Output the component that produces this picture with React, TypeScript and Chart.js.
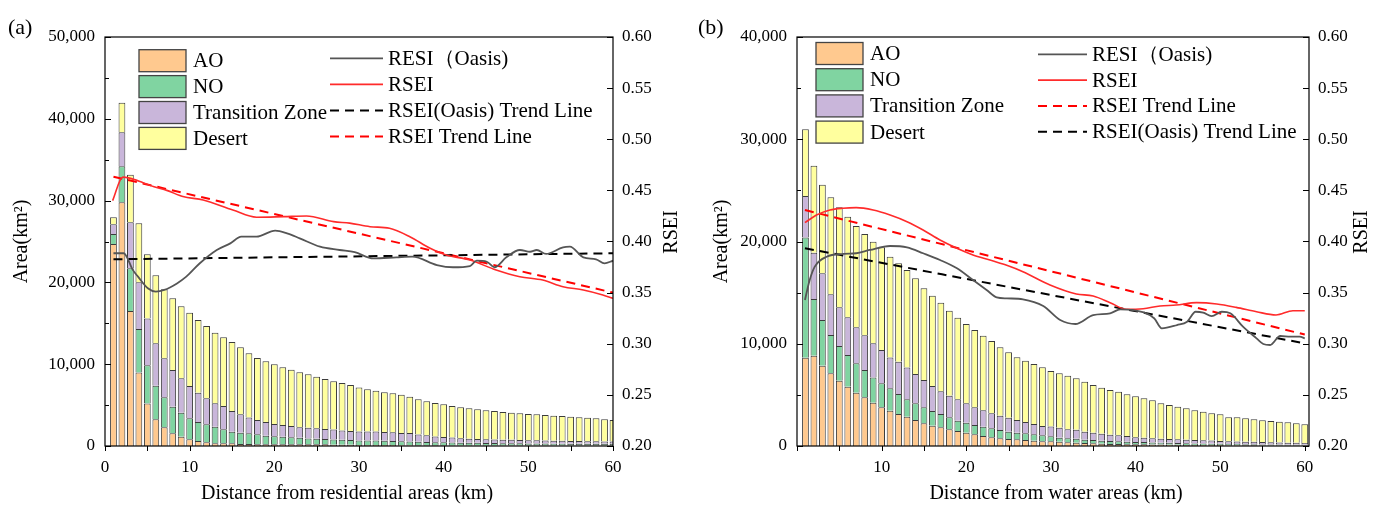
import React, { useEffect, useRef } from "react";
import { Chart, registerables } from "chart.js";

Chart.register(...registerables);

const SERIF = '"Liberation Serif", "Times New Roman", Times, serif';

// distance classes (km) – one bar per km
const KM = Array.from({ length: 60 }, (_, i) => i + 1);

// ---------- Panel (a): distance from residential areas ----------
const A_AO = [24700, 29800, 16500, 9000, 5200, 3260, 2290, 1550, 1140, 820, 610, 450, 330, 330, 330, 250, 250, 210, 200, 200, 200, 200, 200, 200, 200, 200, 150, 150, 150, 120, 120, 120, 110, 110, 100, 100, 80, 80, 80, 80, 70, 70, 70, 70, 60, 60, 60, 60, 60, 60, 60, 60, 50, 50, 50, 50, 50, 50, 50, 50];
const A_NO = [1220, 4400, 5220, 5300, 4680, 4110, 3670, 3250, 2930, 2570, 2320, 2200, 2030, 1710, 1420, 1380, 1310, 1220, 1050, 980, 930, 860, 810, 730, 690, 650, 640, 600, 570, 560, 550, 540, 530, 500, 480, 460, 440, 400, 390, 370, 350, 340, 330, 320, 310, 300, 290, 280, 270, 260, 250, 250, 240, 240, 230, 230, 220, 220, 210, 210];
const A_TZ = [1190, 4160, 5620, 5710, 5710, 5180, 4770, 4490, 4210, 3950, 3580, 3180, 2860, 2850, 2530, 2250, 1910, 1750, 1670, 1500, 1430, 1380, 1270, 1300, 1270, 1220, 1220, 1140, 1100, 1100, 1100, 1100, 1060, 1060, 1020, 1020, 890, 820, 700, 650, 610, 530, 490, 470, 450, 440, 420, 410, 400, 390, 380, 370, 360, 350, 340, 330, 320, 310, 300, 290];
const A_DS = [850, 3610, 5830, 7220, 7840, 8320, 8430, 8770, 8800, 8960, 8890, 8840, 8630, 8400, 8420, 8180, 7860, 7580, 7430, 7310, 7060, 6890, 6730, 6530, 6310, 6120, 5900, 5810, 5640, 5370, 5160, 5000, 4860, 4770, 4670, 4450, 4300, 4160, 4090, 4000, 3860, 3790, 3720, 3630, 3540, 3480, 3390, 3320, 3270, 3200, 3180, 3110, 3050, 3030, 2960, 2900, 2870, 2810, 2700, 2630];

const A_RSEI_X = [0.9, 2.1, 2.9, 4.5, 5.8, 7.3, 9.2, 11.6, 15.1, 17.9, 21.1, 23.8, 27.0, 28.9, 31.3, 33.6, 36.0, 38.4, 40.3, 43.1, 46.2, 49.0, 51.7, 54.1, 56.5, 58.8, 60];
const A_RSEI_Y = [0.440, 0.463, 0.462, 0.4575, 0.4536, 0.450, 0.444, 0.4406, 0.4308, 0.4237, 0.4243, 0.4249, 0.4194, 0.418, 0.4145, 0.4129, 0.4047, 0.3934, 0.3868, 0.3819, 0.3721, 0.3656, 0.3623, 0.3558, 0.3526, 0.3477, 0.3444];
const A_OASIS_X = [1.0, 2.2, 3.3, 3.9, 5.1, 6.0, 7.0, 8.5, 9.6, 11.2, 13.2, 14.8, 16.1, 17.9, 20.1, 21.5, 23.0, 25.4, 27.7, 29.5, 31.7, 34.4, 36.3, 39.2, 41.1, 43.1, 43.9, 45.1, 46.0, 47.4, 49.0, 50.2, 51.0, 52.1, 54.1, 54.9, 56.5, 58.0, 59.0, 60];
const A_OASIS_Y = [0.3885, 0.3885, 0.372, 0.3656, 0.354, 0.351, 0.3526, 0.359, 0.3656, 0.3787, 0.3917, 0.3982, 0.4047, 0.4047, 0.4106, 0.408, 0.4031, 0.3949, 0.3917, 0.3895, 0.3835, 0.3845, 0.3852, 0.377, 0.3748, 0.376, 0.3812, 0.3802, 0.3748, 0.3845, 0.3917, 0.39, 0.3917, 0.3878, 0.3943, 0.3949, 0.3845, 0.3826, 0.3787, 0.3812];
const A_OASIS_TREND_X = [1, 60];
const A_OASIS_TREND_Y = [0.3826, 0.3885];
const A_RSEI_TREND_X = [1, 60];
const A_RSEI_TREND_Y = [0.4634, 0.350];

// ---------- Panel (b): distance from water areas ----------
const B_AO = [8640, 8830, 7850, 7110, 6390, 5800, 5210, 4760, 4230, 3780, 3450, 3130, 2870, 2540, 2220, 1990, 1830, 1630, 1470, 1300, 1140, 980, 850, 750, 680, 650, 590, 520, 460, 460, 420, 360, 330, 290, 260, 220, 200, 200, 180, 170, 160, 150, 140, 130, 120, 110, 100, 100, 90, 90, 80, 80, 70, 70, 60, 60, 60, 50, 50, 50];
const B_NO = [11740, 5550, 4470, 3750, 3390, 3100, 2880, 2670, 2480, 2350, 2200, 1960, 1700, 1630, 1560, 1440, 1300, 1170, 1010, 980, 910, 910, 880, 810, 710, 650, 650, 630, 590, 500, 390, 390, 370, 330, 330, 300, 290, 260, 240, 230, 220, 200, 190, 180, 170, 160, 150, 140, 130, 120, 110, 110, 100, 100, 90, 90, 80, 80, 80, 70];
const B_TZ = [4080, 4530, 4570, 3980, 3790, 3690, 3520, 3390, 3330, 3260, 3000, 3150, 3100, 2870, 2670, 2450, 2220, 2110, 2090, 1900, 1730, 1600, 1470, 1400, 1370, 1240, 1110, 1010, 910, 950, 980, 880, 880, 780, 710, 680, 620, 590, 560, 460, 420, 420, 390, 380, 370, 350, 330, 320, 310, 280, 270, 260, 250, 240, 230, 220, 210, 200, 190, 180];
const B_DS = [6510, 8500, 8670, 9480, 9770, 9840, 9910, 9910, 9940, 10040, 9860, 9630, 9540, 9360, 8970, 8820, 8670, 8320, 7980, 7750, 7560, 7300, 7070, 6690, 6400, 6130, 5990, 5860, 5740, 5430, 5320, 5250, 5040, 4890, 4670, 4500, 4370, 4260, 4070, 4000, 3860, 3700, 3460, 3320, 3180, 3070, 2910, 2790, 2670, 2610, 2350, 2360, 2290, 2200, 2130, 2080, 2030, 1990, 1900, 1820];

const B_RSEI_X = [0.94, 2.3, 3.9, 5.4, 7.0, 9.0, 11.0, 13.0, 14.9, 16.9, 18.9, 20.8, 22.8, 24.7, 26.7, 29.9, 33.0, 35.0, 37.0, 38.9, 40.9, 42.9, 44.8, 47.2, 49.6, 51.9, 54.3, 56.6, 58.6, 60];
const B_RSEI_Y = [0.4184, 0.4259, 0.4308, 0.4325, 0.4331, 0.4308, 0.4259, 0.4194, 0.4113, 0.4015, 0.3934, 0.3868, 0.3819, 0.377, 0.3705, 0.3575, 0.3487, 0.3467, 0.3402, 0.3337, 0.3343, 0.3369, 0.3379, 0.3402, 0.3389, 0.3356, 0.3313, 0.3281, 0.3323, 0.3323];
const B_OASIS_X = [0.94, 1.5, 2.1, 3.5, 5.5, 7.0, 8.6, 11.0, 13.0, 14.9, 16.9, 18.9, 20.8, 22.4, 23.6, 24.8, 26.7, 29.1, 31.1, 32.9, 35.0, 37.0, 38.2, 39.7, 42.2, 43.1, 44.9, 46.1, 47.1, 48.0, 49.0, 50.2, 51.2, 52.7, 54.3, 55.1, 55.9, 57.1, 58.3, 59.4, 60];
const B_OASIS_Y = [0.3428, 0.3623, 0.3754, 0.3851, 0.3878, 0.3885, 0.3917, 0.3956, 0.3943, 0.3885, 0.3819, 0.3738, 0.3623, 0.3526, 0.3454, 0.3444, 0.3435, 0.3369, 0.3232, 0.3193, 0.3281, 0.3298, 0.3337, 0.333, 0.3249, 0.3151, 0.3183, 0.3216, 0.3313, 0.3304, 0.3271, 0.3313, 0.3298, 0.3167, 0.3053, 0.2998, 0.2988, 0.3076, 0.3069, 0.3069, 0.3053];
const B_RSEI_TREND_X = [0.94, 60];
const B_RSEI_TREND_Y = [0.4308, 0.309];
const B_OASIS_TREND_X = [0.94, 60];
const B_OASIS_TREND_Y = [0.3934, 0.3004];

// ---------- styles ----------
const C_AO = "#FFC98F";
const C_NO = "#80D4A1";
const C_TZ = "#C9B6DA";
const C_DS = "#FFFF9E";
const BAR_EDGE = "#3c3c3c";
const C_OASIS = "#555555";
const C_RSEI = "#FF2B2B";
const C_RSEI_TREND = "#FF0000";
const C_OASIS_TREND = "#000000";
const DASH = [9, 6];

type LineSpec = { label: string; xs: number[]; ys: number[]; color: string; dash: number[]; width: number };

type Panel = {
  tag: string;
  tagX: number;
  xTitle: string;
  xTitleX: number;
  areaMax: number;
  xMax: number;
  showZeroX: boolean;
  canvasW: number;
  pageLeft: number;
  leftW: number;
  rightW: number;
  leftTitleX: number;
  rightTitleX: number;
  ao: number[];
  no: number[];
  tz: number[];
  ds: number[];
  lines: LineSpec[];
  boxX: number; boxY0: number; boxDy: number; boxTextX: number;
  lineX0: number; lineX1: number; lineY0: number; lineDy: number; lineTextX: number;
};

const PANEL_A: Panel = {
  tag: "(a)", tagX: 8,
  xTitle: "Distance from residential areas (km)", xTitleX: 347,
  areaMax: 50000, xMax: 60, showZeroX: true,
  canvasW: 693, pageLeft: 0, leftW: 105, rightW: 80,
  leftTitleX: 22, rightTitleX: 672,
  ao: A_AO, no: A_NO, tz: A_TZ, ds: A_DS,
  lines: [
    { label: "RESI（Oasis)", xs: A_OASIS_X, ys: A_OASIS_Y, color: C_OASIS, dash: [], width: 1.8 },
    { label: "RSEI", xs: A_RSEI_X, ys: A_RSEI_Y, color: C_RSEI, dash: [], width: 1.6 },
    { label: "RSEI(Oasis) Trend Line", xs: A_OASIS_TREND_X, ys: A_OASIS_TREND_Y, color: C_OASIS_TREND, dash: DASH, width: 2 },
    { label: "RSEI Trend Line", xs: A_RSEI_TREND_X, ys: A_RSEI_TREND_Y, color: C_RSEI_TREND, dash: DASH, width: 2 },
  ],
  boxX: 34, boxY0: 23.7, boxDy: 25.9, boxTextX: 88,
  lineX0: 225, lineX1: 278, lineY0: 21.3, lineDy: 26.1, lineTextX: 283,
};

const PANEL_B: Panel = {
  tag: "(b)", tagX: 5,
  xTitle: "Distance from water areas (km)", xTitleX: 363,
  areaMax: 40000, xMax: 60.5, showZeroX: false,
  canvasW: 694, pageLeft: 693, leftW: 104, rightW: 78,
  leftTitleX: 29, rightTitleX: 669,
  ao: B_AO, no: B_NO, tz: B_TZ, ds: B_DS,
  lines: [
    { label: "RESI（Oasis)", xs: B_OASIS_X, ys: B_OASIS_Y, color: C_OASIS, dash: [], width: 1.8 },
    { label: "RSEI", xs: B_RSEI_X, ys: B_RSEI_Y, color: C_RSEI, dash: [], width: 1.6 },
    { label: "RSEI Trend Line", xs: B_RSEI_TREND_X, ys: B_RSEI_TREND_Y, color: C_RSEI_TREND, dash: DASH, width: 2 },
    { label: "RSEI(Oasis) Trend Line", xs: B_OASIS_TREND_X, ys: B_OASIS_TREND_Y, color: C_OASIS_TREND, dash: DASH, width: 2 },
  ],
  boxX: 19, boxY0: 16.5, boxDy: 26.2, boxTextX: 73,
  lineX0: 241, lineX1: 290, lineY0: 17.3, lineDy: 25.8, lineTextX: 295,
};

const H = 506;

function overlayPlugin(p: Panel) {
  return {
    id: "overlay",
    afterDraw(chart: any) {
      const { ctx, chartArea: ca, scales } = chart;
      const sx = scales.x, sy = scales.y, sy2 = scales.y2;
      ctx.save();
      ctx.setLineDash([]);
      ctx.strokeStyle = "#000";
      ctx.lineWidth = 1.2;
      ctx.strokeRect(ca.left, ca.top, ca.right - ca.left, ca.bottom - ca.top);

      ctx.beginPath();
      ctx.lineWidth = 1;
      // x ticks (outward), every 5 km
      for (let v = 0; v <= 60; v += 5) {
        const px = Math.round(sx.getPixelForValue(v)) + 0.5;
        ctx.moveTo(px, ca.bottom);
        ctx.lineTo(px, ca.bottom + 5);
      }
      // left ticks inward, major + minor
      const yt = sy.ticks.map((t: any) => t.value);
      yt.forEach((v: number, i: number) => {
        const py = Math.round(sy.getPixelForValue(v)) + 0.5;
        ctx.moveTo(ca.left, py);
        ctx.lineTo(ca.left + 6, py);
        if (i < yt.length - 1) {
          const pm = Math.round(sy.getPixelForValue((v + yt[i + 1]) / 2)) + 0.5;
          ctx.moveTo(ca.left, pm);
          ctx.lineTo(ca.left + 4, pm);
        }
      });
      // right ticks inward
      sy2.ticks.forEach((t: any) => {
        const py = Math.round(sy2.getPixelForValue(t.value)) + 0.5;
        ctx.moveTo(ca.right - 6, py);
        ctx.lineTo(ca.right, py);
      });
      ctx.stroke();

      ctx.fillStyle = "#000";
      // panel tag
      ctx.font = `22px ${SERIF}`;
      ctx.textAlign = "left";
      ctx.textBaseline = "middle";
      ctx.fillText(p.tag, p.tagX, 28);

      // axis titles
      ctx.font = `20px ${SERIF}`;
      ctx.textAlign = "center";
      ctx.save();
      ctx.translate(p.leftTitleX, (ca.top + ca.bottom) / 2);
      ctx.rotate(-Math.PI / 2);
      ctx.fillText("Area(km²)", 0, 0);
      ctx.restore();
      ctx.save();
      ctx.translate(p.rightTitleX, 232);
      ctx.rotate(-Math.PI / 2);
      ctx.fillText("RSEI", 0, 0);
      ctx.restore();
      ctx.fillText(p.xTitle, p.xTitleX, 494);

      // legend: area boxes
      const boxes = [
        ["AO", C_AO],
        ["NO", C_NO],
        ["Transition Zone", C_TZ],
        ["Desert", C_DS],
      ];
      ctx.font = `21px ${SERIF}`;
      ctx.textAlign = "left";
      boxes.forEach(([label, color], i) => {
        const cy = ca.top + p.boxY0 + i * p.boxDy;
        const bx = ca.left + p.boxX;
        ctx.fillStyle = color;
        ctx.fillRect(bx, cy - 11, 47, 22);
        ctx.strokeStyle = "#444";
        ctx.lineWidth = 1.3;
        ctx.strokeRect(bx, cy - 11, 47, 22);
        ctx.fillStyle = "#000";
        ctx.fillText(label, ca.left + p.boxTextX, cy + 1);
      });
      // legend: lines
      p.lines.forEach((l, i) => {
        const cy = ca.top + p.lineY0 + i * p.lineDy;
        ctx.beginPath();
        ctx.strokeStyle = l.color;
        ctx.lineWidth = l.width;
        ctx.setLineDash(l.dash);
        ctx.moveTo(ca.left + p.lineX0, cy);
        ctx.lineTo(ca.left + p.lineX1, cy);
        ctx.stroke();
        ctx.setLineDash([]);
        ctx.fillStyle = "#000";
        ctx.fillText(l.label, ca.left + p.lineTextX, cy + 1);
      });
      ctx.restore();
    },
  };
}

function makeConfig(p: Panel): any {
  const barSets = [
    { label: "AO", values: p.ao, color: C_AO },
    { label: "NO", values: p.no, color: C_NO },
    { label: "Transition Zone", values: p.tz, color: C_TZ },
    { label: "Desert", values: p.ds, color: C_DS },
  ].map((b) => ({
    type: "bar",
    label: b.label,
    data: KM.map((k, i) => ({ x: k, y: b.values[i] })),
    backgroundColor: b.color,
    borderColor: BAR_EDGE,
    borderWidth: 1,
    stack: "area",
    xAxisID: "x",
    yAxisID: "y",
    categoryPercentage: 1,
    barPercentage: 0.8,
    clip: 0,
    order: 2,
  }));
  const lineSets = p.lines.map((l) => ({
    type: "line",
    label: l.label,
    data: l.xs.map((x, i) => ({ x, y: l.ys[i] })),
    borderColor: l.color,
    borderWidth: l.width,
    borderDash: l.dash,
    pointRadius: 0,
    fill: false,
    cubicInterpolationMode: "monotone",
    xAxisID: "x",
    yAxisID: "y2",
    clip: 0,
    order: 1,
  }));
  const tickFont = { family: SERIF, size: 17 };
  return {
    data: { datasets: [...lineSets, ...barSets] },
    options: {
      animation: false,
      responsive: false,
      devicePixelRatio: 1,
      layout: { padding: { top: 37, left: 0, right: 0, bottom: 0 } },
      plugins: { legend: { display: false }, tooltip: { enabled: false }, title: { display: false } },
      scales: {
        x: {
          type: "linear",
          min: 0,
          max: p.xMax,
          offset: false,
          grid: { display: false, drawTicks: false, offset: false },
          border: { display: false },
          ticks: {
            stepSize: 10,
            includeBounds: false,
            autoSkip: false,
            maxRotation: 0,
            padding: 11,
            color: "#000",
            font: tickFont,
            callback: (v: any) => (Number(v) === 0 && !p.showZeroX ? "" : String(v)),
          },
          afterFit: (s: any) => { s.height = 60; },
        },
        y: {
          type: "linear",
          position: "left",
          min: 0,
          max: p.areaMax,
          stacked: true,
          grid: { display: false, drawTicks: false },
          border: { display: false },
          ticks: {
            stepSize: 10000,
            padding: 10,
            color: "#000",
            font: tickFont,
            callback: (v: any) => Number(v).toLocaleString("en-US"),
          },
          afterFit: (s: any) => { s.width = p.leftW; },
        },
        y2: {
          type: "linear",
          position: "right",
          min: 0.2,
          max: 0.6,
          grid: { display: false, drawTicks: false },
          border: { display: false },
          ticks: {
            stepSize: 0.05,
            padding: 9,
            color: "#000",
            font: tickFont,
            callback: (v: any) => Number(v).toFixed(2),
          },
          afterFit: (s: any) => { s.width = p.rightW; },
        },
      },
    },
    plugins: [overlayPlugin(p)],
  };
}

function PanelChart({ p }: { p: Panel }) {
  const ref = useRef<HTMLCanvasElement | null>(null);
  useEffect(() => {
    if (!ref.current) return;
    const chart = new Chart(ref.current, makeConfig(p));
    return () => chart.destroy();
  }, [p]);
  return (
    <canvas
      ref={ref}
      width={p.canvasW}
      height={H}
      style={{ position: "absolute", left: p.pageLeft, top: 0, width: p.canvasW, height: H }}
    />
  );
}

export default function App() {
  return (
    <div style={{ position: "absolute", left: 0, top: 0, width: 1387, height: H, background: "#fff", overflow: "hidden" }}>
      <PanelChart p={PANEL_A} />
      <PanelChart p={PANEL_B} />
    </div>
  );
}
